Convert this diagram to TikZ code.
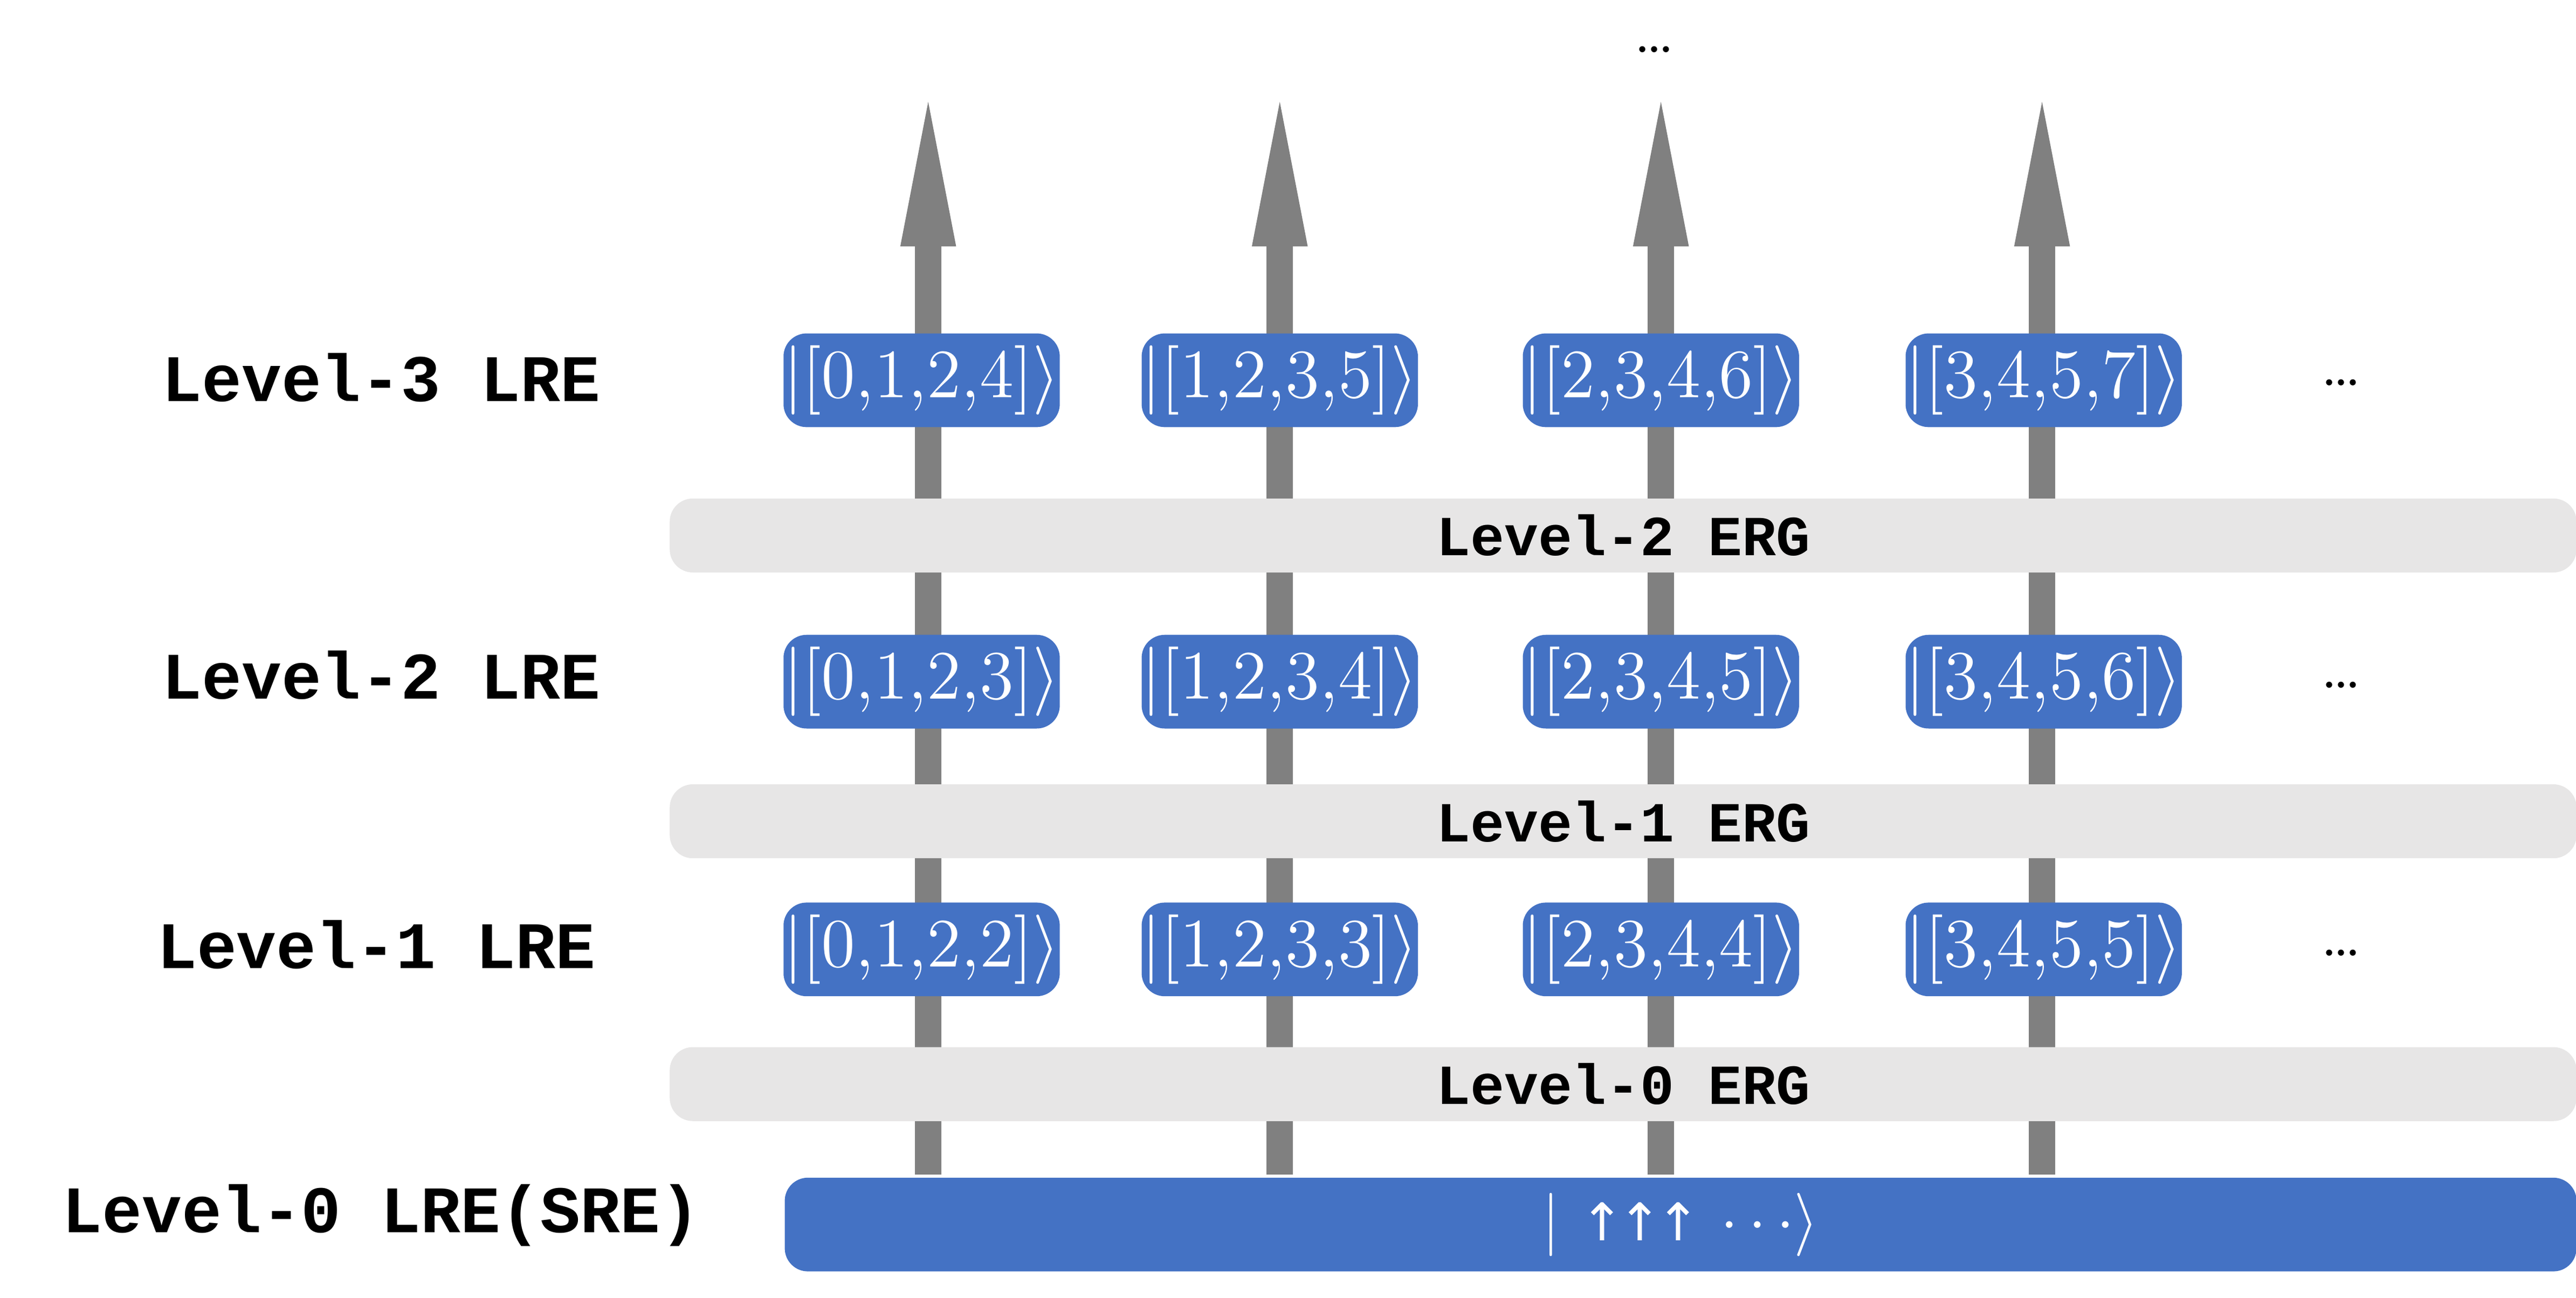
\documentclass[tikz,border=0pt]{standalone}
\usepackage{fontspec}
\setmonofont{Liberation Mono}
\newfontfamily\symfont{DejaVu Sans}
\definecolor{bl}{HTML}{4472C4}
\definecolor{gb}{HTML}{E7E6E6}
\definecolor{ar}{HTML}{808080}
\begin{document}
\begin{tikzpicture}[x=0.01cm,y=-0.01cm,
  qbox/.style={fill=bl,rounded corners=4pt,minimum width=1.54cm,minimum height=0.57cm,text=white,inner sep=0pt,font=\fontsize{11.5}{14}\selectfont},
  band/.style={fill=gb,rounded corners=4pt,minimum width=11.6cm,minimum height=0.45cm,inner sep=0pt,font=\fontsize{9.8}{12}\ttfamily\bfseries},
  lab/.style={font=\fontsize{11.5}{14}\ttfamily\bfseries},
  dots/.style={font=\fontsize{11}{14}\selectfont}]
\useasboundingbox (0,0) rectangle (1568,790);
% arrows
\foreach \x/\n in {565/a,779/b,1011/c,1243/d}{
  \coordinate (\n0) at (\x,715);
  \coordinate (\n1) at (\x,150);
  \fill[ar] (\x-8,715) rectangle (\x+8,148);
  \fill[ar] (\x-17,150) -- (\x,62) -- (\x+17,150) -- cycle;
}
% bands
\node[band] (e2) at (988,326) {Level-2 ERG};
\node[band] (e1) at (988,500) {Level-1 ERG};
\node[band] (e0) at (988,660) {Level-0 ERG};
% boxes
\node[qbox] (b31) at (561,231.5) {$|[0{,}1{,}2{,}4]\rangle$};
\node[qbox] (b32) at (779,231.5) {$|[1{,}2{,}3{,}5]\rangle$};
\node[qbox] (b33) at (1011,231.5) {$|[2{,}3{,}4{,}6]\rangle$};
\node[qbox] (b34) at (1244,231.5) {$|[3{,}4{,}5{,}7]\rangle$};
\node[qbox] (b21) at (561,415) {$|[0{,}1{,}2{,}3]\rangle$};
\node[qbox] (b22) at (779,415) {$|[1{,}2{,}3{,}4]\rangle$};
\node[qbox] (b23) at (1011,415) {$|[2{,}3{,}4{,}5]\rangle$};
\node[qbox] (b24) at (1244,415) {$|[3{,}4{,}5{,}6]\rangle$};
\node[qbox] (b11) at (561,578) {$|[0{,}1{,}2{,}2]\rangle$};
\node[qbox] (b12) at (779,578) {$|[1{,}2{,}3{,}3]\rangle$};
\node[qbox] (b13) at (1011,578) {$|[2{,}3{,}4{,}4]\rangle$};
\node[qbox] (b14) at (1244,578) {$|[3{,}4{,}5{,}5]\rangle$};
\node[fill=bl,rounded corners=4pt,minimum width=10.9cm,minimum height=0.57cm,inner sep=0pt,text=white,font=\fontsize{11}{14}\selectfont] (sre) at (1023,745.5) {$|$ {\symfont\fontsize{9}{12}\selectfont ↑\kern-1pt↑\kern-1pt↑} $\cdots\rangle$};
% labels
\node[lab] (l3) at (232,230) {Level-3 LRE};
\node[lab] (l2) at (232,411) {Level-2 LRE};
\node[lab] (l1) at (229,575) {Level-1 LRE};
\node[lab] (l0) at (232,740) {Level-0 LRE(SRE)};
% dots
\node[dots] (d0) at (1007,30) {\dots};
\node[dots] (d3) at (1425,233) {\dots};
\node[dots] (d2) at (1425,417) {\dots};
\node[dots] (d1) at (1425,580) {\dots};
\end{tikzpicture}
\end{document}
